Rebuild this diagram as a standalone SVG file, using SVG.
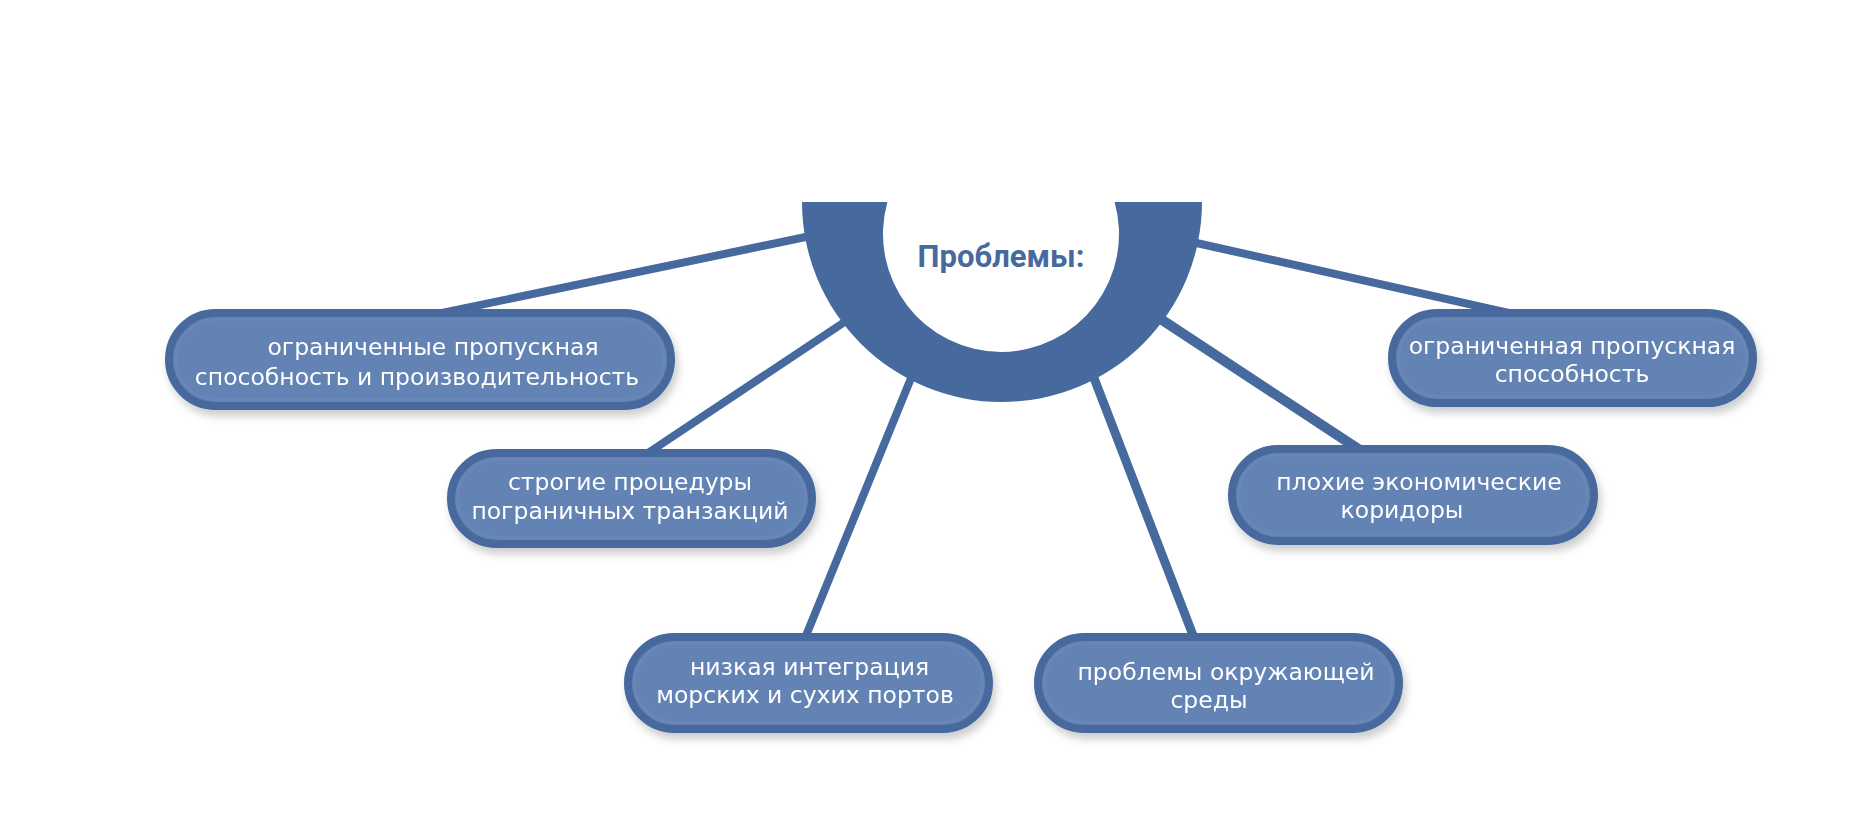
<svg xmlns="http://www.w3.org/2000/svg" width="1855" height="818" viewBox="0 0 1855 818">
  <defs>
    <filter id="shadow" x="-10%" y="-20%" width="120%" height="160%">
      <feDropShadow dx="3" dy="6" stdDeviation="4" flood-color="#000" flood-opacity="0.2"/>
    </filter>
    <style>
      .conn { stroke: #46699e; stroke-width: 8; stroke-linecap: butt; fill: none; }
      .pill { fill: #6383b5; stroke: #46699e; stroke-width: 8; }
      .band { fill: none; stroke: #6887b7; stroke-width: 3; }
      .lbl { font-family: "DejaVu Sans", Verdana, sans-serif; font-size: 23.5px; fill: #ffffff; text-anchor: middle; }
      .title { font-family: Roboto, "Liberation Sans", sans-serif; font-weight: bold; font-size: 31px; fill: #46699e; text-anchor: middle; }
    </style>
  </defs>
  <rect width="1855" height="818" fill="#ffffff"/>

  <g id="connectors">
    <line class="conn" x1="418" y1="318" x2="820" y2="234"/>
    <line class="conn" x1="642" y1="457" x2="858" y2="313"/>
    <line class="conn" x1="803" y1="643" x2="916" y2="366"/>
    <line class="conn" style="stroke-width:9" x1="1196" y1="643" x2="1089" y2="365"/>
    <line class="conn" style="stroke-width:10" x1="1366" y1="454" x2="1150" y2="312"/>
    <line class="conn" x1="1527" y1="317" x2="1183" y2="240"/>
  </g>

  <g id="center">
    <path d="M802,202 A200,200 0 0 0 1202,202 L1114.6,202 A118,118 0 1 1 887.4,202 Z" fill="#46699e"/>
    <text class="title" x="1001" y="267">Проблемы:</text>
  </g>

  <g id="node1" filter="url(#shadow)">
    <rect class="pill" x="169" y="313" width="502" height="93" rx="46.5"/>
    <rect class="band" x="175.5" y="319.5" width="489" height="80" rx="40"/>
    <text class="lbl" x="433" y="355">ограниченные пропускная</text>
    <text class="lbl" x="417" y="385">способность и производительность</text>
  </g>

  <g id="node2" filter="url(#shadow)">
    <rect class="pill" x="451" y="453" width="361" height="91" rx="45.5"/>
    <rect class="band" x="457.5" y="459.5" width="348" height="78" rx="39"/>
    <text class="lbl" x="630" y="490">строгие процедуры</text>
    <text class="lbl" x="630" y="519">пограничных транзакций</text>
  </g>

  <g id="node3" filter="url(#shadow)">
    <rect class="pill" x="628" y="637" width="361" height="92" rx="46"/>
    <rect class="band" x="634.5" y="643.5" width="348" height="79" rx="39.5"/>
    <text class="lbl" x="809.5" y="675">низкая интеграция</text>
    <text class="lbl" x="805" y="703">морских и сухих портов</text>
  </g>

  <g id="node4" filter="url(#shadow)">
    <rect class="pill" x="1038" y="637" width="361" height="92" rx="46"/>
    <rect class="band" x="1044.5" y="643.5" width="348" height="79" rx="39.5"/>
    <text class="lbl" x="1226" y="680">проблемы окружающей</text>
    <text class="lbl" x="1209" y="708">среды</text>
  </g>

  <g id="node5" filter="url(#shadow)">
    <rect class="pill" x="1232" y="449" width="362" height="92" rx="46"/>
    <rect class="band" x="1238.5" y="455.5" width="349" height="79" rx="39.5"/>
    <text class="lbl" x="1419" y="490">плохие экономические</text>
    <text class="lbl" x="1402" y="518">коридоры</text>
  </g>

  <g id="node6" filter="url(#shadow)">
    <rect class="pill" x="1392" y="313" width="361" height="90" rx="45"/>
    <rect class="band" x="1398.5" y="319.5" width="348" height="77" rx="38.5"/>
    <text class="lbl" x="1572" y="354">ограниченная пропускная</text>
    <text class="lbl" x="1572" y="382">способность</text>
  </g>
</svg>
